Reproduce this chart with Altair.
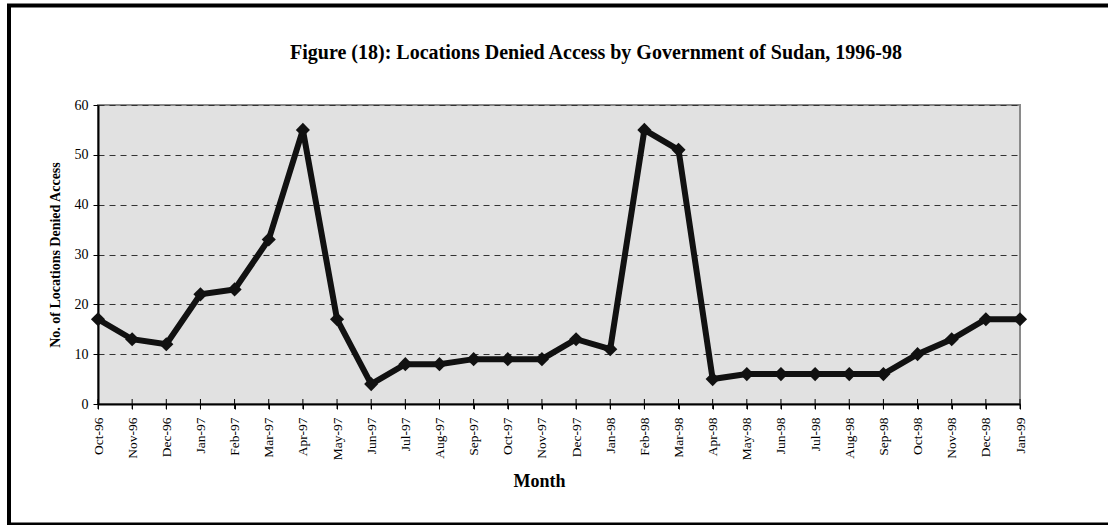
import altair as alt
import pandas as pd

# Monthly counts of locations denied access, Oct 1996 - Jan 1999
months = [
    "Oct-96", "Nov-96", "Dec-96", "Jan-97", "Feb-97", "Mar-97", "Apr-97",
    "May-97", "Jun-97", "Jul-97", "Aug-97", "Sep-97", "Oct-97", "Nov-97",
    "Dec-97", "Jan-98", "Feb-98", "Mar-98", "Apr-98", "May-98", "Jun-98",
    "Jul-98", "Aug-98", "Sep-98", "Oct-98", "Nov-98", "Dec-98", "Jan-99",
]
locations = [
    17, 13, 12, 22, 23, 33, 55,
    17, 4, 8, 8, 9, 9, 9,
    13, 11, 55, 51, 5, 6, 6,
    6, 6, 6, 10, 13, 17, 17,
]
y_ticks = [0, 10, 20, 30, 40, 50, 60]
title_text = "Figure (18): Locations Denied Access by Government of Sudan, 1996-98"

df = pd.DataFrame({"Month": months, "Locations": locations})

SERIF = "Liberation Serif"
W, H = 922, 299

x_enc = alt.X(
    "Month:N",
    sort=months,
    scale=alt.Scale(type="point", padding=0),
    axis=alt.Axis(
        title="Month",
        titleFont=SERIF,
        titleFontSize=18,
        titleFontWeight="bold",
        titleColor="black",
        titleX=441,
        titleY=77,
        titleBaseline="middle",
        labelFont=SERIF,
        labelFontSize=13.5,
        labelColor="black",
        labelAngle=270,
        labelAlign="right",
        labelBaseline="middle",
        labelPadding=8,
        tickSize=5,
        tickColor="black",
        domainColor="black",
        domainWidth=2,
        grid=False,
        labelOverlap=False,
    ),
)
y_enc = alt.Y(
    "Locations:Q",
    scale=alt.Scale(domain=[0, 60], nice=False),
    axis=alt.Axis(
        title="No. of Locations Denied Access",
        titleFont=SERIF,
        titleFontSize=14,
        titleFontWeight="bold",
        titleColor="black",
        titleAngle=270,
        titleX=-43,
        titleY=H / 2,
        titleAlign="center",
        titleBaseline="middle",
        values=y_ticks,
        labelFont=SERIF,
        labelFontSize=14,
        labelColor="black",
        labelPadding=5,
        tickSize=5,
        tickColor="black",
        domainColor="black",
        domainWidth=2,
        grid=True,
        gridColor="#333333",
        gridDash=[6, 5],
        gridWidth=1,
    ),
)

line = alt.Chart(df).mark_line(color="#111111", strokeWidth=6).encode(x=x_enc, y=y_enc)
points = alt.Chart(df).mark_point(
    shape="diamond", filled=True, color="#111111", size=200, opacity=1
).encode(x=alt.X("Month:N", sort=months), y="Locations:Q")

# category ticks that cross the bottom axis line
cross_ticks = alt.Chart(df).mark_rule(color="black", strokeWidth=1).encode(
    x=alt.X("Month:N", sort=months), y=alt.value(H - 5), y2=alt.value(H + 5)
)

# figure heading
heading = alt.Chart(pd.DataFrame({"t": [title_text]})).mark_text(
    font=SERIF, fontSize=20, fontWeight="bold", color="black",
    align="center", baseline="alphabetic",
).encode(text="t:N", x=alt.value(498), y=alt.value(-46))

# outer frame around the figure
frame = alt.Chart(pd.DataFrame({"f": [0]})).mark_rect(
    fillOpacity=0, stroke="black", strokeWidth=4
).encode(
    x=alt.value(-89), x2=alt.value(1030), y=alt.value(-99.5), y2=alt.value(419.5)
)

chart = (
    alt.layer(cross_ticks, line, points, heading, frame)
    .properties(
        width=W,
        height=H,
        background="white",
        padding={"left": 98, "top": 105, "right": 88, "bottom": 121},
        autosize=alt.AutoSizeParams(type="none"),
    )
    .configure_view(fill="#e1e1e1", stroke="#8a8a8a", strokeWidth=2)
)

chart.save("out.html", embed_options={"renderer": "svg", "actions": False})
